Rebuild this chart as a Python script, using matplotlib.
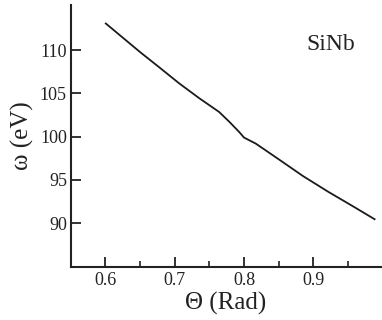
import matplotlib
matplotlib.use("Agg")
from matplotlib import pyplot as plt
from matplotlib.ticker import MultipleLocator

# curve
theta = [0.601, 0.650, 0.679, 0.707, 0.736, 0.764, 0.779, 0.793, 0.800,
         0.817, 0.850, 0.885, 0.921, 0.955, 0.988]
omega = [113.08, 109.80, 107.95, 106.14, 104.42, 102.87, 101.71, 100.55, 99.90,
         99.20, 97.39, 95.45, 93.65, 92.05, 90.47]

label = "SiNb"
xticks = [0.6, 0.7, 0.8, 0.9]
yticks = [90, 95, 100, 105, 110]

plt.rcParams['font.family'] = ['Liberation Serif', 'DejaVu Serif']

fig = plt.figure(figsize=(3.82, 3.2), dpi=100)
ax = fig.add_axes([0.186, 0.167, 0.811, 0.817])

ax.plot(theta, omega, color='#1a1a1a', linewidth=1.3)

ax.set_xlim(0.551, 0.997)
ax.set_ylim(85, 115.2)
ax.set_xticks(xticks)
ax.set_yticks(yticks)
ax.xaxis.set_minor_locator(MultipleLocator(0.05))

for side in ['top', 'right']:
    ax.spines[side].set_visible(False)
for side in ['left', 'bottom']:
    ax.spines[side].set_linewidth(1.5)
    ax.spines[side].set_color('#222222')

ax.tick_params(axis='both', which='major', direction='in', length=7, width=1.3,
               labelsize=13, colors='#222222')
ax.tick_params(axis='x', which='minor', direction='in', length=4, width=1.2, colors='#222222')
ax.tick_params(axis='x', which='major', pad=4)
ax.tick_params(axis='y', which='major', pad=3)

ax.set_xlabel('Θ (Rad)', fontsize=18, labelpad=2, color='#222222')
ax.set_ylabel('ω (eV)', fontsize=18, labelpad=4, color='#222222')

ax.text(0.839, 0.851, label, transform=ax.transAxes, ha='center', va='center',
        fontsize=17, color='#222222')

fig.savefig('out.png', dpi=100)
